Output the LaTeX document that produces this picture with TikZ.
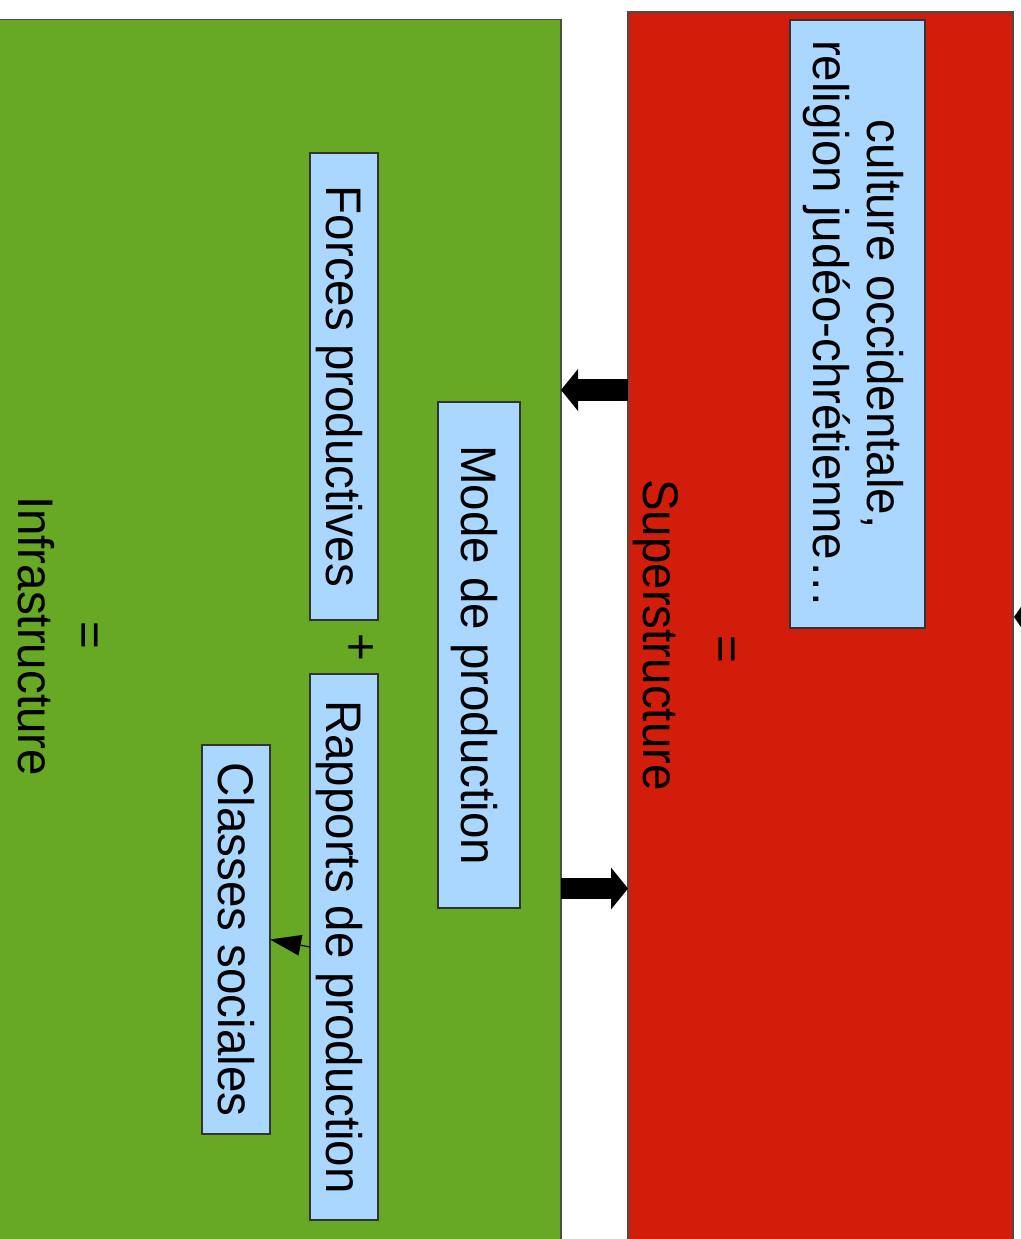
\documentclass[tikz,border=0pt]{standalone}
\usepackage{fontspec}
\newfontfamily\lsans[FakeStretch=0.95]{Liberation Sans}
\usetikzlibrary{arrows.meta}
\definecolor{infragreen}{HTML}{67A824}
\definecolor{superred}{HTML}{D11D0A}
\definecolor{boxblue}{HTML}{AAD7FF}
\definecolor{edgegray}{HTML}{333333}
\begin{document}
\begin{tikzpicture}[x=1pt,y=-1pt,
  lbl/.style={font=\lsans\fontsize{50}{54}\selectfont, inner sep=0pt, rotate=-90},
  area/.style={draw=black!70, line width=1.2pt, outer sep=0pt, inner sep=0pt, anchor=north west},
  bluebox/.style={draw=edgegray, fill=boxblue, line width=1.3pt, inner sep=0pt, outer sep=0pt,
    rotate=-90, font=\lsans\fontsize{50}{54}\selectfont, text height=45.25pt, text depth=10.6pt},
  blockarrow/.style={line width=21.5pt, -{Triangle[length=17pt,width=42pt,line width=0pt]}},
  thinarrow/.style={line width=1.2pt, -{Triangle[length=31pt,width=21pt,line width=0pt]}}
]
\useasboundingbox (0,0) rectangle (1020,1239);
% large areas
\node[area, fill=infragreen, minimum width=581pt, minimum height=1261pt] (inf) at (-20,19.5) {};
\node[area, fill=superred, minimum width=385pt, minimum height=1270pt] (sup) at (628,12) {};
% blue boxes
\node[bluebox, minimum width=467pt, minimum height=68pt] (fp) at (344,386.5) {Forces productives};
\node[bluebox, minimum width=506pt, minimum height=82pt] (mp) at (479,655) {Mode de production};
\node[bluebox, minimum width=546pt, minimum height=68pt] (rp) at (344,947) {Rapports de production};
\node[bluebox, minimum width=389pt, minimum height=68pt] (cl) at (236,939.5) {Classes sociales};
\node[bluebox, minimum width=608pt, minimum height=135pt, align=center, text height=99.25pt, text depth=10.6pt] (cu) at (857.5,324)
  {culture occidentale,\\religion judéo-chrétienne…};
% labels
\node[lbl, anchor=base] (inftxt) at (18,636) {Infrastructure};
\node[lbl, anchor=base] (infeq) at (73,635) {=};
\node[lbl, anchor=base] (plus) at (344,647) {+};
\node[lbl, anchor=base] (suptxt) at (643,635) {Superstructure};
\node[lbl, anchor=base] (supeq) at (710,649) {=};
% connectors
\coordinate (a1s) at (628,390);
\coordinate (a1e) at (561,390);
\coordinate (a2s) at (561,888.5);
\coordinate (a2e) at (628,888.5);
\coordinate (offr) at (1070,617);
\coordinate (supr) at (1014,617);
\draw[blockarrow] (a1s) -- (a1e);
\draw[blockarrow] (a2s) -- (a2e);
\draw[thinarrow] (rp.south) -- (cl.north);
\draw[line width=1.2pt, -{Triangle[length=9pt,width=26pt,line width=0pt]}] (offr) -- (supr);
\end{tikzpicture}
\end{document}
